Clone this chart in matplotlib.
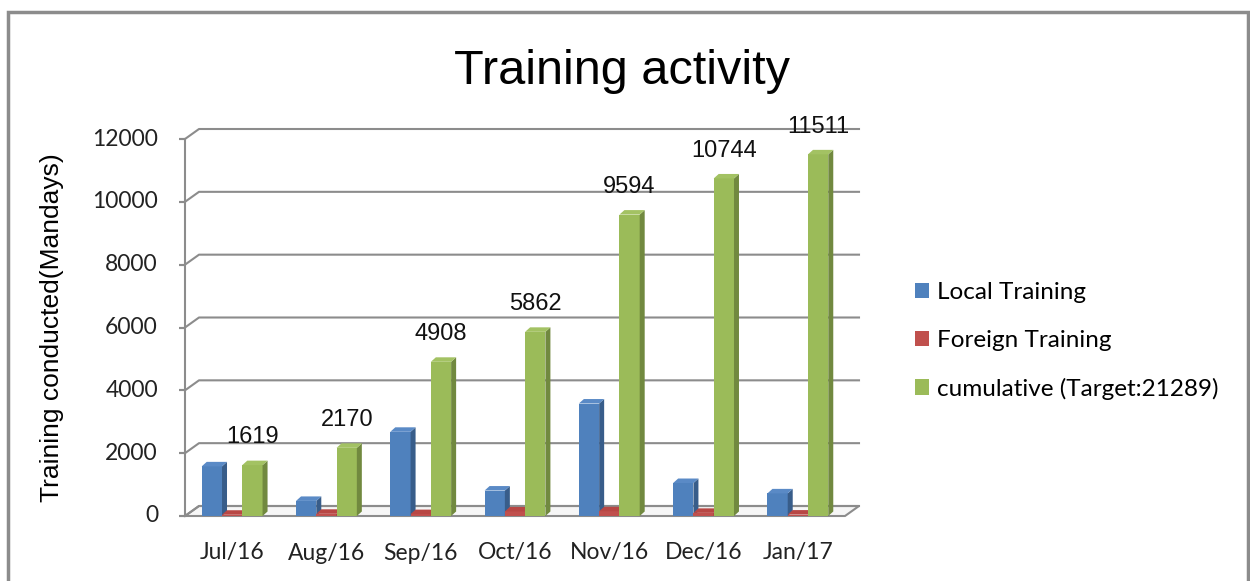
import matplotlib
matplotlib.use("Agg")
import matplotlib.pyplot as plt
from matplotlib.patches import Polygon, Rectangle, Patch
from matplotlib.transforms import ScaledTranslation
import numpy as np

months = ["Jul/16", "Aug/16", "Sep/16", "Oct/16", "Nov/16", "Dec/16", "Jan/17"]
local = [1580, 480, 2680, 810, 3580, 1050, 720]
foreign = [40, 70, 60, 145, 150, 100, 45]
cumulative = [1619, 2170, 4908, 5862, 9594, 10744, 11511]
yticks = [0, 2000, 4000, 6000, 8000, 10000, 12000]

front = ["#4F81BD", "#C0504D", "#9BBB59"]
side = ["#385D8A", "#8C3836", "#71893F"]
top = ["#5A8AC6", "#B84744", "#A3C263"]
names = ["Local Training", "Foreign Training", "cumulative (Target:21289)"]
grid_c = "#8C8C8C"

fig = plt.figure(figsize=(12.5, 5.81), dpi=100)
ax = fig.add_axes([185 / 1250, 1 - 516 / 581, 660 / 1250, 377 / 581])
ax.set_xlim(-0.5, 6.5)
ax.set_ylim(0, 12000)
ax.axis("off")

# back wall sits a few pixels up and to the right
shift = ScaledTranslation(0.14, 0.10, fig.dpi_scale_trans)
wall = ax.transData + shift
inv = ax.transData.inverted()

def back(x, y):
    return inv.transform(wall.transform((x, y)))

# floor
fb = back(6.5, 0)
bb = back(-0.5, 0)
ax.add_patch(Polygon([(-0.5, 0), (6.5, 0), tuple(fb), tuple(bb)], closed=True,
                     facecolor="#F6F6F6", edgecolor=grid_c, lw=1.5, zorder=1, clip_on=False))

# gridlines on back wall, joined to the front axis
for t in yticks:
    b0 = back(-0.5, t)
    b1 = back(6.5, t)
    ax.plot([-0.5, b0[0], b1[0]], [t, b0[1], b1[1]], color=grid_c, lw=1.5,
            clip_on=False, zorder=1)
    ax.plot([-0.5, -0.5], [t, t], marker=[(-8, 0), (0, 0)], color=grid_c, lw=0,
            markersize=8, markeredgewidth=1.5, clip_on=False, zorder=1)
    ax.text(-0.5, t, f"{t}", transform=ax.transData + ScaledTranslation(-0.27, 0, fig.dpi_scale_trans),
            ha="right", va="center", fontsize=16.5, family="Lato", color="#222222")
ax.plot([-0.5, -0.5], [0, 12000], color=grid_c, lw=1.5, clip_on=False, zorder=1)

# bars with pseudo depth
w = 0.215
offs = [-0.215, 0.0, 0.215]
o = ax.transData.transform((0, 0))
ddx, ddy = inv.transform(o + np.array([5.0, 4.5]))
series = [local, foreign, cumulative]
for k, vals in enumerate(series):
    x = np.arange(len(months)) + offs[k]
    ax.bar(x, vals, width=w, color=front[k], zorder=3)
    for xi, v in zip(x, vals):
        r = xi + w / 2
        l = xi - w / 2
        ax.add_patch(Polygon([(r, 0), (r + ddx, ddy), (r + ddx, v + ddy), (r, v)],
                             closed=True, facecolor=side[k], edgecolor="none", zorder=3))
        ax.add_patch(Polygon([(l, v), (l + ddx, v + ddy), (r + ddx, v + ddy), (r, v)],
                             closed=True, facecolor=top[k], edgecolor="none", zorder=3))

for xi, v in zip(np.arange(len(months)) + offs[2], cumulative):
    ax.annotate(f"{v}", (xi, v), xytext=(0, 12), textcoords="offset points",
                ha="center", va="bottom", fontsize=17, family="Liberation Sans",
                color="#111111", zorder=5)

for i, m in enumerate(months):
    ax.text(i, 0, m, transform=ax.transData + ScaledTranslation(0, -0.37, fig.dpi_scale_trans),
            ha="center", va="center", fontsize=16.5, family="Lato", color="#222222")

ax.text(-0.5, 6000, "Training conducted(Mandays)",
        transform=ax.transData + ScaledTranslation(-1.33, 0.0, fig.dpi_scale_trans),
        rotation=90, ha="center", va="center", fontsize=19, family="Liberation Sans")

fig.text(622 / 1250, 1 - 71 / 581, "Training activity", ha="center", va="center",
         fontsize=35, family="Liberation Sans")

handles = [Patch(facecolor=c, edgecolor="none") for c in front]
fig.legend(handles, names, loc="center left", bbox_to_anchor=(893 / 1250, 1 - 341 / 581),
           frameon=False, prop={"family": "Lato", "size": 17.5},
           handlelength=0.6, handleheight=0.6, handletextpad=0.3, labelspacing=1.1)

# outer frame
fig.add_artist(Rectangle((8 / 1250, -0.1), 1240 / 1250, 1.1 - 12 / 581,
                         transform=fig.transFigure, fill=False, edgecolor="#8C8C8C", lw=2.5))

fig.savefig("out.png", dpi=100)
